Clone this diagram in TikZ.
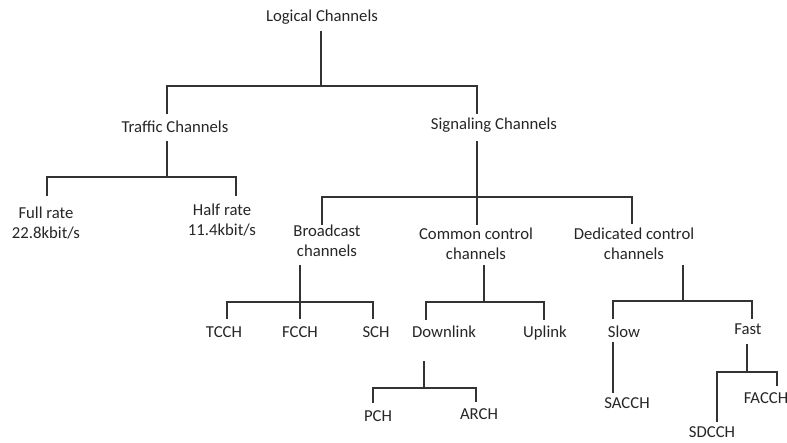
\documentclass[tikz,border=0pt]{standalone}
\usepackage{fontspec}
\setmainfont{Carlito}

\begin{document}
\begin{tikzpicture}[
    x=1pt, y=-1pt,
    lbl/.style={font=\fontsize{16.7}{19.5}\selectfont, text=black!85, inner sep=0pt, text height=14pt, text depth=3pt},
    lbltwo/.style={font=\fontsize{16.7}{19.5}\selectfont, text=black!85, inner sep=0pt, align=center},
    link/.style={line width=1.3pt, draw=black!80}
]
\path[use as bounding box, fill=white] (0,0) rectangle (787,442);

% Root
\node[lbl] (logical) at (322,16) {Logical Channels};

% Level 1
\node[lbl] (traffic) at (175,127) {Traffic Channels};
\node[lbl] (signal) at (494,124) {Signaling Channels};
\draw[link] ([shift={(-1,15)}]logical.center) -- ++(0,55) -| ([shift={(-8,-13)}]traffic.center)
            ([shift={(-1,15)}]logical.center) ++(0,55) -| ([shift={(-17,-10)}]signal.center);

% Level 2: traffic
\node[lbltwo] (full) at (46,223) {Full rate\\22.8kbit/s};
\node[lbltwo] (half) at (222,220) {Half rate\\11.4kbit/s};
\draw[link] ([shift={(-8,14)}]traffic.center) -- ++(0,36) -| ([shift={(1,-27)}]full.center)
            ([shift={(-8,14)}]traffic.center) ++(0,36) -| ([shift={(14,-24)}]half.center);

% Level 2: signaling
\node[lbltwo] (broad) at (327,241) {Broadcast\\channels};
\node[lbltwo] (common) at (476,244) {Common control\\channels};
\node[lbltwo] (dedic) at (634,244) {Dedicated control\\channels};
\draw[link] ([shift={(-17,17)}]signal.center) -- ++(0,56) -| ([shift={(-5,-16)}]broad.center)
            ([shift={(-17,17)}]signal.center) ++(0,56) -| ([shift={(1,-19)}]common.center)
            ([shift={(-17,17)}]signal.center) ++(0,56) -| ([shift={(-2,-20)}]dedic.center);

% Level 3: broadcast
\node[lbl] (tcch) at (224,332) {TCCH};
\node[lbl] (fcch) at (300,332) {FCCH};
\node[lbl] (sch) at (376,332) {SCH};
\draw[link] ([shift={(-27,24)}]broad.center) -- ++(0,37) -| ([shift={(3,-13)}]tcch.center)
            ([shift={(-27,24)}]broad.center) ++(0,37) -| ([shift={(0,-13)}]fcch.center)
            ([shift={(-27,24)}]broad.center) ++(0,37) -| ([shift={(-3,-13)}]sch.center);

% Level 3: common control
\node[lbl] (down) at (444,332) {Downlink};
\node[lbl] (up) at (545,332) {Uplink};
\draw[link] ([shift={(8,21)}]common.center) -- ++(0,37) -| ([shift={(-18,-12)}]down.center)
            ([shift={(8,21)}]common.center) ++(0,37) -| ([shift={(-1,-12)}]up.center);

% Level 3: dedicated control
\node[lbl] (slow) at (624,332) {Slow};
\node[lbl] (fast) at (748,329) {Fast};
\draw[link] ([shift={(49,21)}]dedic.center) -- ++(0,36) -| ([shift={(-11,-13)}]slow.center)
            ([shift={(49,21)}]dedic.center) ++(0,36) -| ([shift={(4,-10)}]fast.center);

% Level 4
\node[lbl] (pch) at (378,416) {PCH};
\node[lbl] (arch) at (479,414) {ARCH};
\draw[link] ([shift={(-20,29)}]down.center) -- ++(0,27) -| ([shift={(-5,-13)}]pch.center)
            ([shift={(-20,29)}]down.center) ++(0,27) -| ([shift={(-3,-12)}]arch.center);

\node[lbl] (sacch) at (627,403) {SACCH};
\draw[link] ([shift={(-11,10)}]slow.center) -- ([shift={(-14,-10)}]sacch.center);

\node[lbl] (sdcch) at (712,432) {SDCCH};
\node[lbl] (facch) at (766,398) {FACCH};
\draw[link] ([shift={(-1,15)}]fast.center) -- ++(0,28) -| ([shift={(5,-10)}]sdcch.center)
            ([shift={(-1,15)}]fast.center) ++(0,28) -| ([shift={(11,-12)}]facch.center);

\end{tikzpicture}
\end{document}
